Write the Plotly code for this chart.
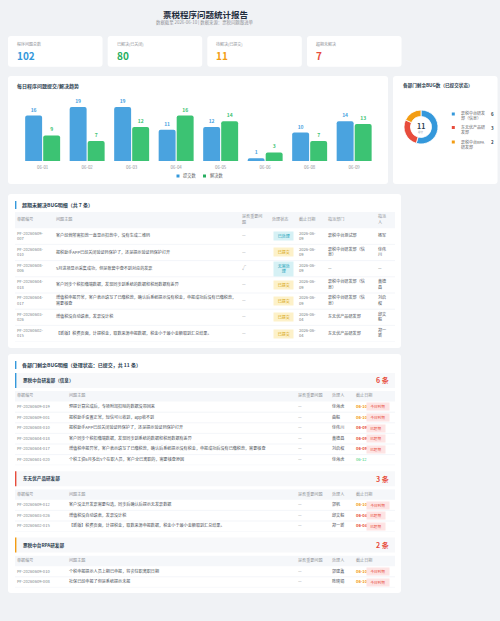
import plotly.graph_objects as go

W, H = 500, 621
FONT = "Noto Sans CJK SC"

# ---------------- 数据 ----------------
kpi_labels = ["程序问题总数", "已解决(已关闭)", "待解决(已提交)", "超期未解决"]
kpi_values = [102, 80, 11, 7]

days = ["06-01", "06-02", "06-03", "06-04", "06-05", "06-06", "06-08", "06-09"]
submitted = [16, 19, 19, 11, 12, 1, 10, 14]
resolved = [9, 7, 12, 16, 14, 3, 7, 13]
series_names = ["提交数", "解决数"]

dept_names = ["票税中台研发部（信息）", "东无优产品研发部", "票税中台RPA研发部"]
dept_open = [6, 3, 2]

# 超期未解决
od_ids = ["PF-20260609-007", "PF-20260608-010", "PF-20260608-006", "PF-20260604-018",
          "PF-20260604-017", "PF-20260603-026", "PF-20260602-015"]
od_topics = [
    "客户经营所需扣款一直显示扣款中，没有生成二维码",
    "报税助手APP已经关闭验证码保护了，还是提示验证码保护打开",
    "5月进项显示采集成功，但是账套中查不到对应的发票",
    "客户同步个税扣缴端数据，发现同步到系统的数据和税局数据有差异",
    "增值税申报异常，客户表示填写了已缴税款，确认后系统提示没有税金，申报成功后没有已缴税款，需要核查",
    "增值税没自动填表，发票没计税",
    "【新版】税费页面，计提税金，取数来源申报数据，税金小于最小金额取到汇总结果。",
]
od_important = ["—", "—", "√", "—", "—", "—", "—"]
od_status = ["已处理", "已提交", "无需处理", "已提交", "已提交", "已提交", "已提交"]
od_due = ["2026-06-09", "2026-06-09", "2026-06-09", "2026-06-09", "2026-06-09", "2026-06-04", "2026-06-04"]
od_dept = ["票税中台测试部", "票税中台研发部（信息）", "—", "票税中台研发部（信息）",
           "票税中台研发部（信息）", "东无优产品研发部", "东无优产品研发部"]
od_owner = ["杨军", "徐伟川", "—", "黄德昌", "刘启权", "邱文毅", "郑一新"]

# 各部门剩余（已提交）
sec_ids = [
    ["PF-20260609-019", "PF-20260609-001", "PF-20260608-010", "PF-20260604-018", "PF-20260604-017", "PF-20260601-020"],
    ["PF-20260609-012", "PF-20260603-026", "PF-20260602-015"],
    ["PF-20260609-010", "PF-20260609-008"],
]
sec_topics = [
    ["预提计算完成后，专项附加扣除的数据没带回来",
     "报税助手设置正常，短信可以收到，app收不到",
     "报税助手APP已经关闭验证码保护了，还是提示验证码保护打开",
     "客户同步个税扣缴端数据，发现同步到系统的数据和税局数据有差异",
     "增值税申报异常，客户表示填写了已缴税款，确认后系统提示没有税金，申报成功后没有已缴税款，需要核查",
     "个税工资6月多出5个在职人员，客户全已离职的，需要核查原因"],
    ["客户没法开发票需要勾选，同步后确认后提示无发票数据",
     "增值税没自动填表，发票没计税",
     "【新版】税费页面，计提税金，取数来源申报数据，税金小于最小金额取到汇总结果。"],
    ["个税申报提示人员上期已申报，将会往职离职日期",
     "社保已经申报了但是系统提示未报"],
]
sec_important = [["—"] * 6, ["—"] * 3, ["—"] * 2]
sec_owner = [
    ["徐海虎", "曲毅", "徐伟川", "黄德昌", "刘启权", "徐海虎"],
    ["郭帆", "邱文毅", "郑一新"],
    ["郭建鑫", "陈晓娟"],
]
sec_due = [
    ["06-10", "06-10", "06-09", "06-09", "06-09", "06-12"],
    ["06-10", "06-04", "06-04"],
    ["06-10", "06-10"],
]
sec_flag = [
    ["今日到期", "今日到期", "已超期", "已超期", "已超期", ""],
    ["今日到期", "已超期", "已超期"],
    ["今日到期", "今日到期"],
]

# ---------------- 样式 ----------------
BLUE, GREEN, ORANGE, RED = "#3498db", "#27ae60", "#f39c12", "#e74c3c"
kpi_colors = [BLUE, GREEN, ORANGE, RED]
sec_colors = [BLUE, RED, ORANGE]
badge_style = {
    "已处理": ("#d6f1f5", "#17a2b8"),
    "无需处理": ("#d6f1f5", "#17a2b8"),
    "已提交": ("#fdf1c9", "#d39e00"),
    "今日到期": ("#fde4e4", RED),
    "已超期": ("#fde4e4", RED),
}
due_color = {"今日到期": ORANGE, "已超期": RED, "": "#2ecc71"}


def X(px):
    return px / W


def Y(py):
    return 1 - py / H


def wrap(s, n):
    return "<br>".join(s[i:i + n] for i in range(0, len(s), n))


def rrect(x0, y0, x1, y1, r=3, fill="white"):
    p = (f"M{X(x0 + r)},{Y(y0)} L{X(x1 - r)},{Y(y0)} Q{X(x1)},{Y(y0)} {X(x1)},{Y(y0 + r)} "
         f"L{X(x1)},{Y(y1 - r)} Q{X(x1)},{Y(y1)} {X(x1 - r)},{Y(y1)} "
         f"L{X(x0 + r)},{Y(y1)} Q{X(x0)},{Y(y1)} {X(x0)},{Y(y1 - r)} "
         f"L{X(x0)},{Y(y0 + r)} Q{X(x0)},{Y(y0)} {X(x0 + r)},{Y(y0)} Z")
    return dict(type="path", xref="paper", yref="paper", path=p, fillcolor=fill,
                line=dict(width=0), layer="below")


def rect(x0, y0, x1, y1, fill):
    return dict(type="rect", xref="paper", yref="paper", x0=X(x0), x1=X(x1), y0=Y(y1), y1=Y(y0),
                fillcolor=fill, line=dict(width=0), layer="below")


def note(x, y, text, size=4.2, color="#606266", anchor="left", bold=False, **kw):
    return dict(x=X(x), y=Y(y), xref="paper", yref="paper", text=text, showarrow=False,
                xanchor=anchor, yanchor="middle", align=anchor if anchor != "center" else "center",
                font=dict(size=size, color=color, family=FONT, weight="bold" if bold else "normal"), **kw)


fig = go.Figure()
shapes, annos = [], []

# 标题
annos.append(note(205, 14, "票税程序问题统计报告", 8.5, "#1f2d3d", "center", True))
annos.append(note(205, 23, "数据截至 2026-06-10 | 数据来源：票税问题跟进单", 4.4, "#909399", "center"))

# KPI 卡片
kpi_x = [8, 107.7, 207.3, 307]
for i, (lab, val) in enumerate(zip(kpi_labels, kpi_values)):
    x0 = kpi_x[i]
    shapes.append(rrect(x0, 36, x0 + 94.5, 66.7))
    annos.append(note(x0 + 7, 44.5, lab, 4, "#909399"))
    annos.append(note(x0 + 7, 55.5, str(val), 10, kpi_colors[i], bold=True))

# 柱状图卡片
shapes.append(rrect(8, 76, 388, 184))
annos.append(note(15, 86, "每日程序问题提交/解决趋势", 5, "#2c3e50", bold=True))
bar_colors = ["#4aa3df", "#3cc373"]
for name, vals, col in zip(series_names, [submitted, resolved], bar_colors):
    fig.add_trace(go.Bar(
        x=days, y=vals, name=name, marker=dict(color=col, line=dict(width=0)),
        text=vals, textposition="outside", cliponaxis=False,
        textfont=dict(size=5, color=col, weight="bold", family=FONT),
        showlegend=False, xaxis="x", yaxis="y", hoverinfo="skip"))
# 图例
for i, (name, col) in enumerate(zip(series_names, [BLUE, GREEN])):
    lx = 176.5 + i * 26.5
    shapes.append(rect(lx, 174.5, lx + 3, 177.5, col))
    annos.append(note(lx + 4.5, 176, name, 4.2, "#606266"))

# 环形图卡片
shapes.append(rrect(393, 76, 497.5, 184))
annos.append(note(401, 86, "各部门剩余BUG数（已提交状态）", 4.6, "#2c3e50", bold=True))
fig.add_trace(go.Pie(
    labels=dept_names, values=dept_open, hole=0.62, sort=False, direction="clockwise",
    rotation=0, textinfo="none", showlegend=False, hoverinfo="skip",
    marker=dict(colors=sec_colors, line=dict(color="white", width=0.8)),
    domain=dict(x=[X(404), X(438)], y=[Y(144), Y(110)])))
annos.append(note(421, 125.5, str(sum(dept_open)), 7, "#2c3e50", "center", True))
annos.append(note(421, 131.5, "总计", 2.6, "#909399", "center"))
leg_y = [116, 129.5, 144]
leg_txt = ["票税中台研发<br>部（信息）", "东无优产品研<br>发部", "票税中台RPA<br>研发部"]
for i, (t, v) in enumerate(zip(leg_txt, dept_open)):
    shapes.append(rect(451.8, leg_y[i] - 3.5, 454.8, leg_y[i] - 0.5, sec_colors[i]))
    annos.append(note(458.5, leg_y[i], t, 4, "#606266"))
    annos.append(note(492, leg_y[i] - 2, str(v), 4.4, "#2c3e50", "center", True))

# ---------------- 表格 1：超期未解决 ----------------
shapes.append(rrect(8, 194, 401, 348))
shapes.append(rect(15, 201, 16.4, 209, BLUE))
annos.append(note(20, 205, f"超期未解决BUG明细（共 {len(od_ids)} 条）", 5, "#2c3e50", bold=True))

TEXT = "#606266"
HEAD = "#909399"


def add_table(ax, top, row_h, n, left=15, right=395):
    """隐藏坐标轴：x 以像素计，y 以行号计（表头为 -1）"""
    xa = "xaxis" + ax
    ya = "yaxis" + ax
    fig.layout[xa] = dict(domain=[0, 1], range=[0, W], visible=False, fixedrange=True,
                          anchor="y" + ax)
    fig.layout[ya] = dict(domain=[Y(top + (n + 1) * row_h), Y(top)], range=[n - 0.5, -1.5],
                          visible=False, fixedrange=True, anchor="x" + ax)
    shapes.append(dict(type="rect", xref="x" + ax, yref="y" + ax, x0=left, x1=right, y0=-1.5, y1=-0.5,
                       fillcolor="#f5f7fa", line=dict(width=0), layer="below"))
    for i in range(n):
        shapes.append(dict(type="line", xref="x" + ax, yref="y" + ax, x0=left, x1=right,
                           y0=i + 0.5, y1=i + 0.5, line=dict(color="#ebeef5", width=0.6), layer="below"))


def add_col(ax, x, header, values, color=TEXT, size=4.1):
    n = len(values)
    fig.add_trace(go.Scatter(
        x=[x] * (n + 1), y=list(range(-1, n)), mode="text",
        text=[header] + list(values), textposition="middle right",
        textfont=dict(size=size, color=[HEAD] + (color if isinstance(color, list) else [color] * n),
                      family=FONT),
        xaxis="x" + ax, yaxis="y" + ax, showlegend=False, hoverinfo="skip", cliponaxis=False))


add_table("2", 212, 16.2, len(od_ids))
add_col("2", 17, "单据编号", [wrap(s, 12) for s in od_ids], "#7a7f87")
add_col("2", 56, "问题主题", [wrap(s, 44) for s in od_topics], "#4a4f57")
add_col("2", 242, wrap("是否重要问题", 5), od_important, "#7a7f87")
add_col("2", 272, "处理状态", [""] * len(od_status))
add_col("2", 299, "截止日期", [wrap(s, 8) for s in od_due], "#7a7f87")
add_col("2", 328, "指派部门", [wrap(s, 9) for s in od_dept], "#4a4f57")
add_col("2", 378, wrap("指派人", 2), [wrap(s, 2) for s in od_owner], "#4a4f57")
for i, st in enumerate(od_status):
    bg, fg = badge_style[st]
    annos.append(dict(x=273, y=i, xref="x2", yref="y2", text=wrap(st, 3), showarrow=False,
                      xanchor="left", yanchor="middle", bgcolor=bg, borderpad=1.2,
                      width=17, align="center",
                      font=dict(size=4, color=fg, family=FONT)))

# ---------------- 表格 2：各部门剩余 ----------------
shapes.append(rrect(8, 354, 401, 593))
shapes.append(rect(15, 361, 16.4, 369, BLUE))
total_open = sum(len(s) for s in sec_ids)
annos.append(note(20, 365, f"各部门剩余BUG明细（处理状态：已提交，共 {total_open} 条）", 5, "#2c3e50", bold=True))

row_h = 10.6
band_top = 373
for k, name in enumerate(dept_names):
    n = len(sec_ids[k])
    shapes.append(rect(15, band_top, 395, band_top + 15, "#f7f8fa"))
    shapes.append(rect(15, band_top, 16.4, band_top + 15, sec_colors[k]))
    annos.append(note(21, band_top + 7.5, name, 4.6, "#2c3e50", bold=True))
    annos.append(note(391, band_top + 7.5, f"{n} 条", 7, RED, "right", True))
    ax = str(3 + k)
    top = band_top + 18
    add_table(ax, top, row_h, n)
    add_col(ax, 17, "单据编号", sec_ids[k], "#7a7f87")
    add_col(ax, 69, "问题主题", sec_topics[k], "#4a4f57")
    add_col(ax, 298, "是否重要问题", sec_important[k], "#7a7f87")
    add_col(ax, 332, "处理人", sec_owner[k], "#4a4f57")
    add_col(ax, 356, "截止日期",
            [f"<b>{d}</b>" if f else d for d, f in zip(sec_due[k], sec_flag[k])],
            [due_color[f] for f in sec_flag[k]])
    for i, f in enumerate(sec_flag[k]):
        if f:
            bg, fg = badge_style[f]
            annos.append(dict(x=366, y=i, xref="x" + ax, yref="y" + ax, text=f, showarrow=False,
                              xanchor="left", yanchor="middle", bgcolor=bg, borderpad=0.8,
                              width=20 if len(f) == 4 else 16, align="center",
                              font=dict(size=3.6, color=fg, family=FONT)))
    band_top = top + (n + 1) * row_h + 6

fig.update_layout(
    width=W, height=H, margin=dict(l=0, r=0, t=0, b=0),
    paper_bgcolor="#f0f2f5", plot_bgcolor="rgba(0,0,0,0)",
    font=dict(family=FONT, size=4.2, color=TEXT),
    barmode="group", bargap=0.19, bargroupgap=0.06, barcornerradius=2,
    xaxis=dict(type="category", domain=[X(20.4), X(376.4)], range=[-0.5, 7.5], showgrid=False,
               zeroline=False, showline=False, ticks="", ticklabelstandoff=3,
               tickfont=dict(size=4.4, color="#909399"), fixedrange=True, anchor="y"),
    yaxis=dict(domain=[Y(161), Y(98.5)], range=[0, 22], visible=False, fixedrange=True, anchor="x"),
    shapes=shapes, annotations=annos,
)

fig.write_html("out.html", config={"displayModeBar": False},
               post_script="document.body.style.margin='0';")
